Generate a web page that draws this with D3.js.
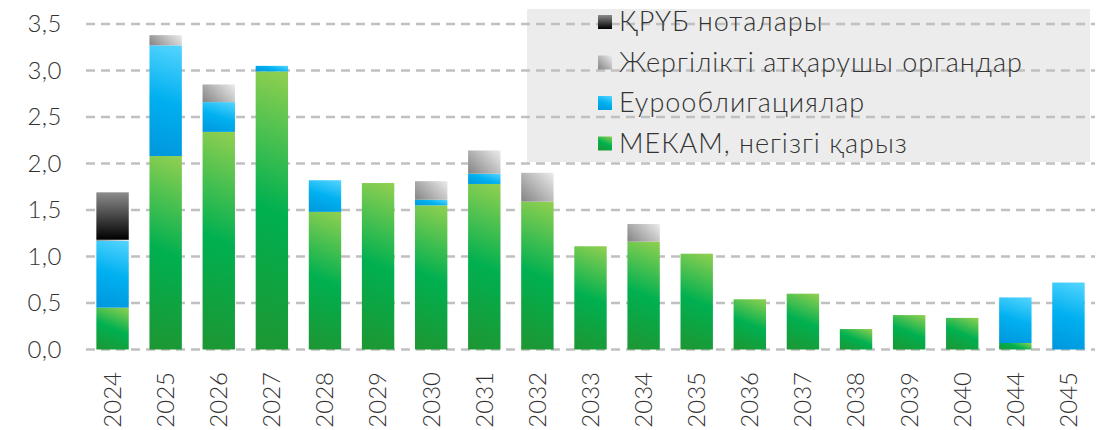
<!DOCTYPE html>
<meta charset="utf-8">
<html>
    <head>
        <style>
            html, body {
                margin: 0;
                padding: 0;
                background: #fff;
            }
            svg text {
                font-family: Lato, "Open Sans", sans-serif;
                font-weight: 300;
                fill: #333;
            }
            .grid line {
                stroke: #c0c0c0;
                stroke-width: 2.5;
                stroke-dasharray: 9 6;
            }
        </style>
    </head>
    <body>
        <svg width="1102" height="430"></svg>
        <script src="https://cdn.jsdelivr.net/npm/d3@7"></script>
        <script>
            var years = ['2024', '2025', '2026', '2027', '2028', '2029', '2030', '2031', '2032', '2033',
                         '2034', '2035', '2036', '2037', '2038', '2039', '2040', '2044', '2045'];
            var mekam = [0.45, 2.08, 2.34, 2.99, 1.48, 1.79, 1.55, 1.78, 1.59, 1.11,
                         1.16, 1.03, 0.54, 0.60, 0.22, 0.37, 0.34, 0.07, 0];
            var euro  = [0.72, 1.19, 0.32, 0.06, 0.34, 0, 0.06, 0.11, 0, 0,
                         0, 0, 0, 0, 0, 0, 0, 0.49, 0.72];
            var local = [0.01, 0.11, 0.19, 0, 0, 0, 0.20, 0.25, 0.31, 0,
                         0.19, 0, 0, 0, 0, 0, 0, 0, 0];
            var krub  = [0.51, 0, 0, 0, 0, 0, 0, 0, 0, 0,
                         0, 0, 0, 0, 0, 0, 0, 0, 0];
            var yTicks = [0, 0.5, 1, 1.5, 2, 2.5, 3, 3.5];

            // colour stops and gradient angle (degrees from vertical) per series
            var series = [
                {key: 'mekam', name: 'МЕКАМ, негізгі қарыз', values: mekam, angle: 22,
                 stops: [[0, '#92d050'], [0.5, '#00b050'], [1, '#1e9632']]},
                {key: 'euro', name: 'Еурооблигациялар', values: euro, angle: 18,
                 stops: [[0, '#55d5ff'], [0.5, '#00b0f0'], [1, '#0096dc']]},
                {key: 'local', name: 'Жергілікті атқарушы органдар', values: local, angle: 45,
                 stops: [[0, '#ececec'], [1, '#838383']]},
                {key: 'krub', name: 'ҚРҮБ ноталары', values: krub, angle: 0,
                 stops: [[0, '#8c8c8c'], [1, '#000000']]}
            ];

            var svg = d3.select('svg');
            var defs = svg.append('defs');

            var table = years.map(function (y, i) {
                var row = {year: y};
                series.forEach(function (s) { row[s.key] = s.values[i]; });
                return row;
            });

            var stacked = d3.stack().keys(series.map(function (s) { return s.key; }))(table);

            var x = d3.scaleBand()
                .domain(years)
                .range([86, 1095])
                .paddingInner(0.39)
                .paddingOuter(0.195);

            var y = d3.scaleLinear()
                .domain([0, 3.5])
                .range([349.5, 24]);

            // gradient spanning a rect at a fixed angle, top-right light to bottom-left dark
            var gradCount = 0;
            function rectGradient(s, x0, y0, w, h) {
                var id = 'grad' + (gradCount++);
                var a = s.angle * Math.PI / 180,
                    ux = -Math.sin(a), uy = Math.cos(a),
                    len = w * Math.sin(a) + h * Math.cos(a),
                    sx = s.angle ? x0 + w : x0, sy = y0;
                var g = defs.append('linearGradient')
                    .attr('id', id)
                    .attr('gradientUnits', 'userSpaceOnUse')
                    .attr('x1', sx).attr('y1', sy)
                    .attr('x2', sx + ux * len).attr('y2', sy + uy * len);
                s.stops.forEach(function (st) {
                    g.append('stop').attr('offset', st[0]).attr('stop-color', st[1]);
                });
                return 'url(#' + id + ')';
            }

            // legend box
            svg.append('rect')
                .attr('x', 527)
                .attr('y', 9)
                .attr('width', 563)
                .attr('height', 153)
                .attr('fill', '#ececec');

            // gridlines
            svg.append('g')
                .attr('class', 'grid')
                .selectAll('line')
                .data(yTicks)
                .enter()
                    .append('line')
                    .attr('x1', 86)
                    .attr('x2', 1095)
                    .attr('y1', function (d) { return y(d); })
                    .attr('y2', function (d) { return y(d); });

            // y labels
            svg.append('g')
                .selectAll('text')
                .data(yTicks)
                .enter()
                    .append('text')
                    .attr('x', 62)
                    .attr('y', function (d) { return y(d); })
                    .attr('dy', '0.35em')
                    .attr('text-anchor', 'end')
                    .style('font-size', '24px')
                    .style('letter-spacing', '0.5px')
                    .text(function (d) { return d3.format('.1f')(d).replace('.', ','); });

            // bars
            var layers = svg.append('g')
                .selectAll('g')
                .data(stacked)
                .enter()
                    .append('g');

            layers.selectAll('rect')
                .data(function (d, i) {
                    return d.filter(function (p) { return p[1] - p[0] > 0; })
                        .map(function (p) { p.s = series[i]; return p; });
                })
                .enter()
                    .append('rect')
                    .attr('x', function (d) { return x(d.data.year); })
                    .attr('width', x.bandwidth())
                    .attr('y', function (d) { return y(d[1]); })
                    .attr('height', function (d) { return Math.max(1, y(d[0]) - y(d[1])); })
                    .attr('fill', function (d) {
                        return rectGradient(d.s, x(d.data.year), y(d[1]), x.bandwidth(),
                            Math.max(1, y(d[0]) - y(d[1])));
                    });

            // x labels
            svg.append('g')
                .selectAll('text')
                .data(years)
                .enter()
                    .append('text')
                    .attr('transform', function (d) {
                        return 'translate(' + (x(d) + x.bandwidth() / 2) + ',372) rotate(-90)';
                    })
                    .attr('dy', '0.35em')
                    .attr('text-anchor', 'end')
                    .style('font-size', '24px')
                    .text(function (d) { return d; });

            // legend
            var legend = svg.append('g')
                .selectAll('g')
                .data(series.slice().reverse())
                .enter()
                    .append('g')
                    .attr('transform', function (d, i) { return 'translate(598,' + (22 + i * 40.5) + ')'; });

            legend.append('rect')
                .attr('x', 0)
                .attr('y', -7)
                .attr('width', 14)
                .attr('height', 14)
                .attr('fill', function (d) { return rectGradient(d, 0, -7, 14, 14); });

            legend.append('text')
                .attr('x', 21)
                .attr('dy', '0.35em')
                .style('font-size', '27px')
                .style('letter-spacing', '1px')
                .text(function (d) { return d.name; });
        </script>
    </body>
</html>
